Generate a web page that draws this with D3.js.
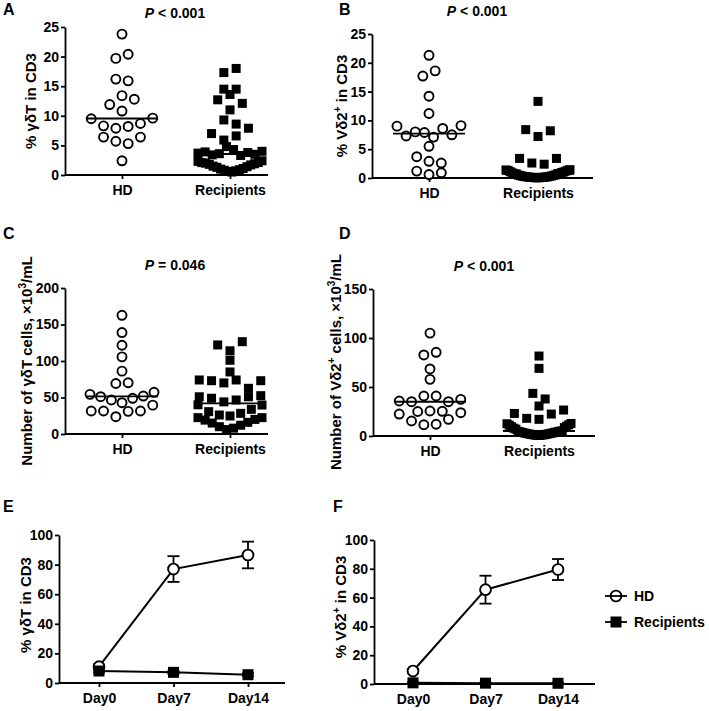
<!DOCTYPE html>
<html><head><meta charset="utf-8">
<script src="https://cdn.jsdelivr.net/npm/d3@7"></script>
<style>
body{margin:0;background:#fff;}
svg{display:block;}
</style></head><body>
<svg id="chart" width="709" height="711"></svg>
<script>
// ---------------- DATA ----------------
const groups = ["HD", "Recipients"];
const days = ["Day0", "Day7", "Day14"];

// Panel A: % γδT in CD3
const hdA  = [23.8, 19.7, 20.4, 16.2, 15.9, 11.9, 13.4, 12.8, 10.8, 9.5, 8.3, 7.9, 8.2, 8.7, 9.6, 6.4, 5.7, 5.3, 6.4, 2.4];
const recA = [17.3, 18.0, 14.5, 14.5, 12.7, 13.6, 12.1, 11.0, 9.3, 8.6, 7.0, 5.9, 6.6, 7.9,
              3.7, 3.9, 3.4, 3.6, 4.8, 4.3, 3.3, 3.8, 3.5, 4.0,
              2.3, 2.1, 2.0, 1.8, 1.5, 1.3, 1.0, 0.8, 0.6, 0.5, 0.7, 0.9, 1.1, 1.4, 1.7, 1.9, 2.1, 2.4];
const ticksA = [0, 5, 10, 15, 20, 25];

// Panel B: % Vδ2+ in CD3
const hdB  = [21.3, 17.7, 18.6, 14.2, 11.2, 9.0, 7.3, 8.0, 7.9, 7.1, 8.6, 7.5, 9.1, 5.5, 3.7, 2.9, 2.6, 1.2, 0.6, 0.9];
const recB = [13.3, 8.4, 7.2, 8.2, 3.4, 2.6, 2.4, 3.4,
              1.4, 1.3, 1.1, 0.9, 0.75, 0.7, 0.5, 0.4, 0.32, 0.25, 0.2, 0.15, 0.1, 0.08, 0.05, 0.05,
              0.05, 0.08, 0.1, 0.15, 0.2, 0.28, 0.35, 0.45, 0.55, 0.75, 0.8, 0.95, 1.05, 1.2, 1.35, 1.45];
const ticksB = [0, 5, 10, 15, 20, 25];

// Panel C: number of γδT cells ×10^3/mL
const hdC  = [162.6, 139, 121.6, 105.7, 86.1, 69.2, 70.2, 54.3, 51.1, 46.6, 42.9, 48.9, 52.0, 57.1, 31.5, 31.5, 23.7, 31.0, 31.5, 39.5];
const recC = [122, 114, 126.5, 101, 85, 74, 73, 70, 74, 62.6, 73, 51, 49, 44, 46.6, 51, 52.5,
              40, 30.6, 26, 24.7, 28.3, 33.8, 39.7,
              22.4, 19, 15, 10, 6, 8, 12, 16, 20, 22.4];
const ticksC = [0, 50, 100, 150, 200];

// Panel D: number of Vδ2+ cells ×10^3/mL
const hdD  = [105, 82.7, 85.4, 68.4, 57.8, 35.7, 35, 40.8, 40.8, 35, 37.4, 25, 25.5, 25.2, 22.4, 15.3, 11.5, 12.0, 17, 23.8];
const recD = [81.6, 69, 43.5, 37.8, 30.6, 23, 18, 17, 22.4, 26.5,
              12.5, 11, 9.5, 8, 7, 4.8, 4.2, 3.6, 3.0, 2.5, 2.0, 1.6, 1.2, 0.9, 0.6,
              0.7, 1.0, 1.4, 1.8, 2.3, 2.8, 3.3, 3.9, 4.4, 4.9, 5.2, 8.6, 10, 11.5, 12.8];
const ticksD = [0, 50, 100, 150];

// Panel E: % γδT in CD3 over culture days (mean ± error)
const eHD = [11, 77, 86.5];
const eHDerr = [1.5, 8.7, 9];
const eRec = [8.1, 7.2, 5.6];
const eRecErr = [1, 1, 1];
// Panel F: % Vδ2+ in CD3 over culture days
const fHD = [9, 65.5, 79.5];
const fHDerr = [1.5, 9.7, 7.3];
const fRec = [0.8, 0.6, 0.5];
const fRecErr = [0.5, 0.5, 0.5];
const ticksEF = [0, 20, 40, 60, 80, 100];

// ---------------- DRAWING ----------------
const FONT = '"Liberation Sans", Arial, Helvetica, sans-serif';
const svg = d3.select("#chart").attr("font-family", FONT).attr("font-weight", "bold");
const SW = 1.8;

function styleAxis(a) {
  a.attr("font-family", FONT).attr("font-size", 14).attr("font-weight", "bold");
  a.selectAll("path,line").attr("stroke", "#000").attr("stroke-width", SW);
  a.selectAll("text").attr("fill", "#000");
}

function yLabel(parts, x, y) {
  const t = svg.append("text")
    .attr("transform", `translate(${x},${y}) rotate(-90)`)
    .attr("text-anchor", "middle").attr("font-size", 15).attr("fill", "#000");
  let prevSup = false;
  parts.forEach(p => {
    const s = t.append("tspan").text(p.t);
    if (p.sup) { s.attr("font-size", 10).attr("dy", -6); prevSup = true; }
    else { if (prevSup) s.attr("dy", 6); prevSup = false; }
  });
}

function title(pRest, x, y) {
  const t = svg.append("text").attr("x", x).attr("y", y).attr("text-anchor", "middle")
    .attr("font-size", 14).attr("fill", "#000");
  t.append("tspan").attr("font-style", "italic").text("P");
  t.append("tspan").text(pRest);
}

function letter(s, x, y) {
  svg.append("text").attr("x", x).attr("y", y).attr("font-size", 16).attr("fill", "#000").text(s);
}

// GraphPad-like row spreading of points sharing roughly the same height
function swarm(values, y, gap = 6.2, cap = 12.5, sp = 12.3, maxHalf = 32) {
  const idx = values.map((v, i) => i).sort((a, b) => values[a] - values[b]);
  const clusters = [];
  let cur = null;
  idx.forEach(i => {
    const py = y(values[i]);
    if (cur && (y(values[cur.last]) - py) < gap && (cur.start - py) <= cap) {
      cur.members.push(i); cur.last = i;
    } else {
      cur = { start: py, members: [i], last: i }; clusters.push(cur);
    }
  });
  const off = new Array(values.length).fill(0);
  clusters.forEach(c => {
    const m = c.members.slice().sort((a, b) => a - b);
    const n = m.length;
    const s = n > 1 ? Math.min(sp, 2 * maxHalf / (n - 1)) : 0;
    m.forEach((i, k) => { off[i] = (k - (n - 1) / 2) * s; });
  });
  return off;
}

function scatterPanel(cfg) {
  const y = d3.scaleLinear().domain([0, cfg.max]).range([cfg.yB, cfg.yT]);
  const x = d3.scalePoint().domain(groups).range(cfg.cx);

  svg.append("g").attr("transform", `translate(${cfg.x0},0)`)
    .call(d3.axisLeft(y).tickValues(cfg.ticks).tickSize(4).tickPadding(2).tickSizeOuter(0))
    .call(styleAxis);
  svg.append("line").attr("x1", cfg.x0).attr("x2", cfg.x1).attr("y1", cfg.yB).attr("y2", cfg.yB)
    .attr("stroke", "#000").attr("stroke-width", SW);
  svg.append("g").attr("transform", `translate(0,${cfg.yB})`)
    .call(d3.axisBottom(x).tickSize(4).tickPadding(6))
    .call(a => a.select(".domain").remove())
    .call(styleAxis);

  const hd = cfg.hd, rec = cfg.rec;
  const offH = swarm(hd, y), offR = swarm(rec, y);
  const g = svg.append("g");
  g.selectAll("circle.hd").data(hd).join("circle").attr("class", "hd")
    .attr("cx", (d, i) => x("HD") + offH[i]).attr("cy", d => y(d)).attr("r", 4.5)
    .attr("fill", "#fff").attr("stroke", "#000").attr("stroke-width", 1.9);
  const s = 9;
  g.selectAll("rect.rec").data(rec).join("rect").attr("class", "rec")
    .attr("x", (d, i) => x("Recipients") + offR[i] - s / 2).attr("y", d => y(d) - s / 2)
    .attr("width", s).attr("height", s).attr("fill", "#000");
  [["HD", hd], ["Recipients", rec]].forEach(([k, v]) => {
    const m = d3.median(v);
    g.append("line").attr("x1", x(k) - 36).attr("x2", x(k) + 36)
      .attr("y1", y(m)).attr("y2", y(m)).attr("stroke", "#000").attr("stroke-width", 1.9);
  });
}

function linePanel(cfg) {
  const y = d3.scaleLinear().domain([0, 100]).range([cfg.yB, cfg.yT]);
  const x = d3.scalePoint().domain(days).range(cfg.cx);
  svg.append("g").attr("transform", `translate(${cfg.x0},0)`)
    .call(d3.axisLeft(y).tickValues(ticksEF).tickSize(4).tickPadding(2).tickSizeOuter(0))
    .call(styleAxis);
  svg.append("line").attr("x1", cfg.x0).attr("x2", cfg.x1).attr("y1", cfg.yB).attr("y2", cfg.yB)
    .attr("stroke", "#000").attr("stroke-width", SW);
  svg.append("g").attr("transform", `translate(0,${cfg.yB})`)
    .call(d3.axisBottom(x).tickSize(4).tickPadding(6))
    .call(a => a.select(".domain").remove())
    .call(styleAxis);

  const line = d3.line().x((d, i) => x(days[i])).y(d => y(d));
  const series = [
    { v: cfg.hd, e: cfg.hdErr, type: "circle" },
    { v: cfg.rec, e: cfg.recErr, type: "square" }
  ];
  const g = svg.append("g");
  series.forEach(sr => {
    g.append("path").datum(sr.v).attr("d", line).attr("fill", "none")
      .attr("stroke", "#000").attr("stroke-width", 2);
    sr.v.forEach((d, i) => {
      const cx = x(days[i]);
      const hi = y(d + sr.e[i]), lo = y(Math.max(0, d - sr.e[i]));
      g.append("line").attr("x1", cx).attr("x2", cx).attr("y1", hi).attr("y2", lo)
        .attr("stroke", "#000").attr("stroke-width", 1.8);
      [hi, lo].forEach(yy => g.append("line").attr("x1", cx - 6).attr("x2", cx + 6)
        .attr("y1", yy).attr("y2", yy).attr("stroke", "#000").attr("stroke-width", 1.8));
    });
  });
  series.forEach(sr => {
    sr.v.forEach((d, i) => {
      const cx = x(days[i]), cy = y(d);
      if (sr.type === "circle") {
        g.append("circle").attr("cx", cx).attr("cy", cy).attr("r", 5.4)
          .attr("fill", "#fff").attr("stroke", "#000").attr("stroke-width", 1.9);
      } else {
        g.append("rect").attr("x", cx - 5.5).attr("y", cy - 5.5).attr("width", 11).attr("height", 11)
          .attr("fill", "#000");
      }
    });
  });
}

// ---- Panel A
letter("A", 3, 15);
title(" < 0.001", 175, 18);
scatterPanel({ x0: 65, x1: 268, yT: 27, yB: 175, cx: [122, 230], max: 25, ticks: ticksA, hd: hdA, rec: recA });
yLabel([{ t: "% γδT in CD3" }], 36, 101);

// ---- Panel B
letter("B", 339, 15);
title(" < 0.001", 477, 16);
scatterPanel({ x0: 372, x1: 593, yT: 34, yB: 178, cx: [429, 538], max: 25, ticks: ticksB, hd: hdB, rec: recB });
yLabel([{ t: "% Vδ2" }, { t: "+", sup: true }, { t: " in CD3" }], 347, 106);

// ---- Panel C
letter("C", 3, 239);
title(" = 0.046", 175, 270);
scatterPanel({ x0: 65, x1: 268, yT: 288, yB: 434, cx: [122, 230], max: 200, ticks: ticksC, hd: hdC, rec: recC });
yLabel([{ t: "Number of γδT cells, ×10" }, { t: "3", sup: true }, { t: "/mL" }], 32, 361);

// ---- Panel D
letter("D", 339, 239);
title(" < 0.001", 484, 271);
scatterPanel({ x0: 373, x1: 595, yT: 289, yB: 436, cx: [430, 539], max: 150, ticks: ticksD, hd: hdD, rec: recD });
yLabel([{ t: "Number of Vδ2" }, { t: "+", sup: true }, { t: " cells, ×10" }, { t: "3", sup: true }, { t: "/mL" }], 341, 362);

// ---- Panel E
letter("E", 3, 512);
linePanel({ x0: 59, x1: 285, yT: 535, yB: 683, cx: [99, 248], hd: eHD, hdErr: eHDerr, rec: eRec, recErr: eRecErr });
yLabel([{ t: "% γδT in CD3" }], 31, 605);

// ---- Panel F
letter("F", 333, 512);
linePanel({ x0: 374, x1: 595, yT: 540, yB: 684, cx: [413, 558], hd: fHD, hdErr: fHDerr, rec: fRec, recErr: fRecErr });
yLabel([{ t: "% Vδ2" }, { t: "+", sup: true }, { t: " in CD3" }], 346, 607);

// ---- Legend
const leg = svg.append("g");
leg.append("circle").attr("cx", 616).attr("cy", 596).attr("r", 5.4).attr("fill", "#fff").attr("stroke", "#000").attr("stroke-width", 1.9);
leg.append("line").attr("x1", 605).attr("x2", 627).attr("y1", 596).attr("y2", 596).attr("stroke", "#000").attr("stroke-width", 1.8);
leg.append("text").attr("x", 634).attr("y", 601).attr("font-size", 14).attr("fill", "#000").text("HD");
leg.append("line").attr("x1", 605).attr("x2", 627).attr("y1", 622).attr("y2", 622).attr("stroke", "#000").attr("stroke-width", 1.8);
leg.append("rect").attr("x", 610.5).attr("y", 616.5).attr("width", 11).attr("height", 11).attr("fill", "#000");
leg.append("text").attr("x", 634).attr("y", 627).attr("font-size", 14).attr("fill", "#000").text("Recipients");
</script>
</body></html>
